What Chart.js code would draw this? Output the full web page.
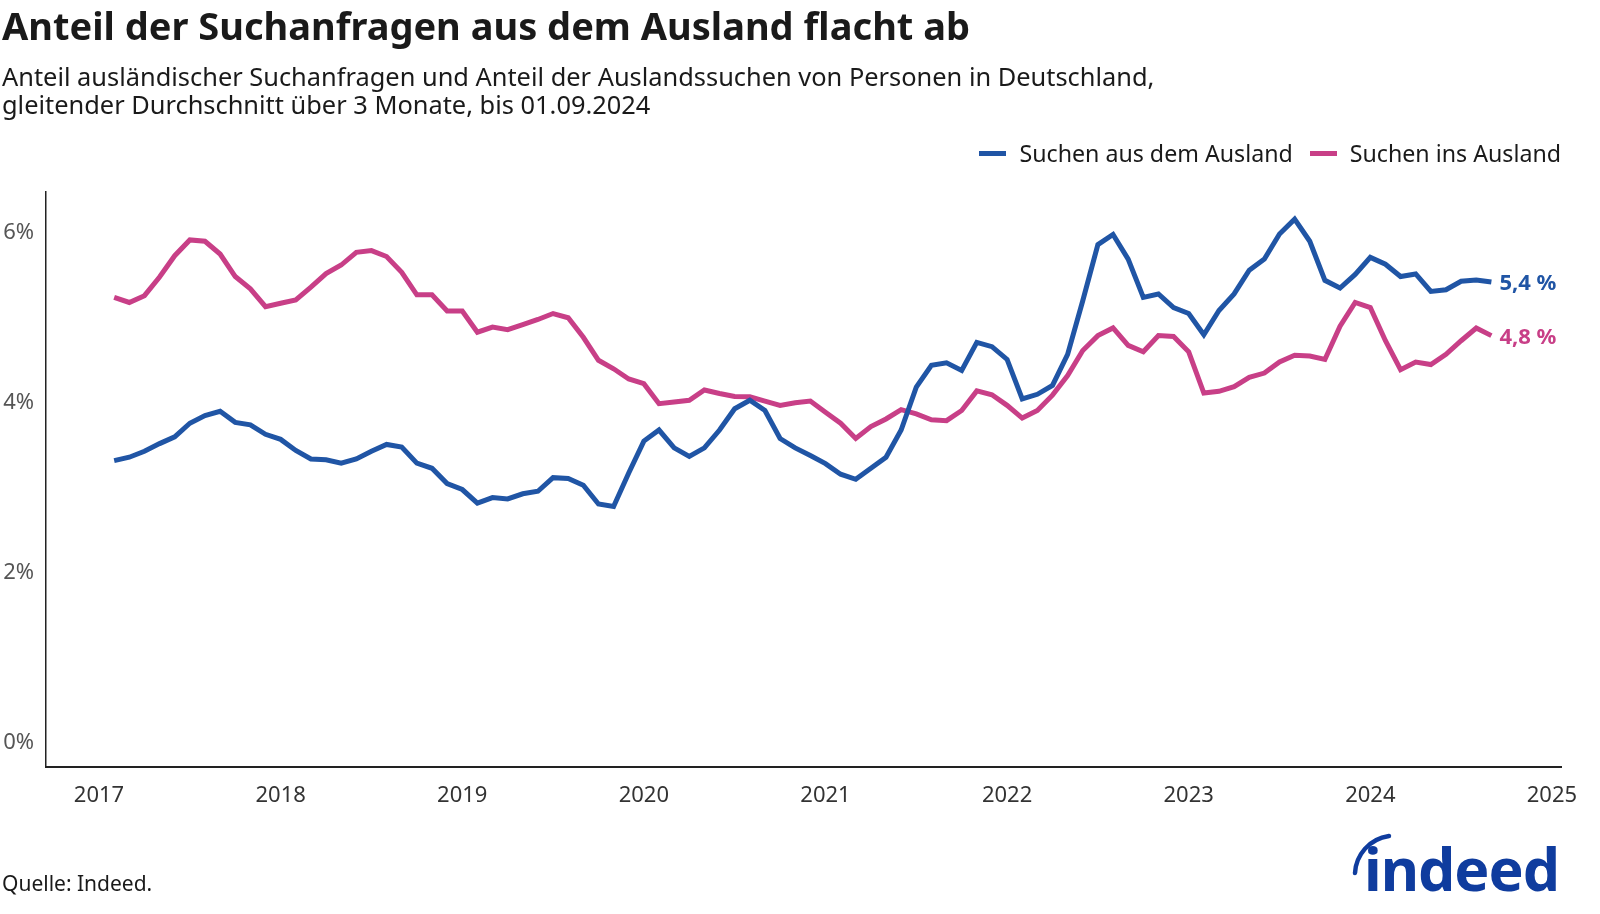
<!DOCTYPE html>
<html><head><meta charset="utf-8">
<script src="https://cdn.jsdelivr.net/npm/chart.js@4.4.1/dist/chart.umd.min.js"></script>
<style>
html,body{margin:0;padding:0;background:#fff}
body{width:1600px;height:914px;position:relative;overflow:hidden;font-family:"Noto Sans",sans-serif;color:#1a1a1a}
#c{position:absolute;left:0;top:0}
.title{position:absolute;left:2px;top:1px;font-size:38px;font-weight:700;white-space:nowrap;line-height:48px}
.sub{position:absolute;left:2px;top:63px;font-size:25.4px;line-height:27.6px;white-space:nowrap}
.legend{position:absolute;right:39px;top:138px;display:flex;align-items:center;font-size:23.2px;line-height:30px;white-space:nowrap}
.legend .sw{width:27px;height:5px;margin-right:13px}
.legend .it{display:flex;align-items:center;margin-left:17px}
.src{position:absolute;left:2px;top:868px;font-size:21px;line-height:30px;white-space:nowrap}
.logo{position:absolute;left:1345px;top:815px}
</style></head>
<body>
<canvas id="c" width="1600" height="914"></canvas>
<div class="title">Anteil der Suchanfragen aus dem Ausland flacht ab</div>
<div class="sub">Anteil ausländischer Suchanfragen und Anteil der Auslandssuchen von Personen in Deutschland,<br>gleitender Durchschnitt über 3 Monate, bis 01.09.2024</div>
<div class="legend" id="legend"></div>
<div class="src">Quelle: Indeed.</div>
<svg class="logo" width="225" height="82" viewBox="0 0 225 82">
  <path d="M10 58 C 11 40, 24 24, 44 21" fill="none" stroke="#0f3c9e" stroke-width="4.5" stroke-linecap="round"/>
  <text x="19" y="76" font-family="Noto Sans" font-weight="700" font-size="59" fill="#0f3c9e" letter-spacing="-1">indeed</text>
</svg>
<script>
const months = [
 "2017-02","2017-03","2017-04","2017-05","2017-06","2017-07","2017-08","2017-09","2017-10","2017-11","2017-12",
 "2018-01","2018-02","2018-03","2018-04","2018-05","2018-06","2018-07","2018-08","2018-09","2018-10","2018-11","2018-12",
 "2019-01","2019-02","2019-03","2019-04","2019-05","2019-06","2019-07","2019-08","2019-09","2019-10","2019-11","2019-12",
 "2020-01","2020-02","2020-03","2020-04","2020-05","2020-06","2020-07","2020-08","2020-09","2020-10","2020-11","2020-12",
 "2021-01","2021-02","2021-03","2021-04","2021-05","2021-06","2021-07","2021-08","2021-09","2021-10","2021-11","2021-12",
 "2022-01","2022-02","2022-03","2022-04","2022-05","2022-06","2022-07","2022-08","2022-09","2022-10","2022-11","2022-12",
 "2023-01","2023-02","2023-03","2023-04","2023-05","2023-06","2023-07","2023-08","2023-09","2023-10","2023-11","2023-12",
 "2024-01","2024-02","2024-03","2024-04","2024-05","2024-06","2024-07","2024-08","2024-09"
];
const ausDemAusland = [
 3.32,3.36,3.43,3.52,3.60,3.76,3.85,3.90,3.77,3.74,3.63,
 3.57,3.44,3.34,3.33,3.29,3.34,3.43,3.51,3.48,3.29,3.23,3.05,
 2.98,2.82,2.885,2.87,2.93,2.96,3.12,3.11,3.03,2.81,2.78,3.175,
 3.55,3.68,3.47,3.37,3.47,3.68,3.93,4.03,3.91,3.58,3.47,3.38,
 3.285,3.16,3.10,3.23,3.36,3.68,4.185,4.44,4.47,4.38,4.71,4.66,
 4.51,4.045,4.10,4.205,4.57,5.20,5.86,5.98,5.69,5.24,5.28,5.12,
 5.05,4.80,5.085,5.28,5.56,5.69,5.985,6.16,5.90,5.44,5.35,5.51,
 5.71,5.63,5.485,5.515,5.31,5.33,5.43,5.445,5.42
];
const insAusland = [
 5.24,5.18,5.26,5.48,5.73,5.915,5.90,5.75,5.485,5.34,5.13,
 5.17,5.21,5.36,5.52,5.62,5.77,5.79,5.72,5.535,5.27,5.27,5.08,
 5.08,4.83,4.89,4.86,4.92,4.98,5.05,5.00,4.77,4.50,4.40,4.28,
 4.225,3.99,4.01,4.03,4.15,4.11,4.075,4.07,4.02,3.97,4.00,4.02,
 3.89,3.76,3.58,3.72,3.81,3.92,3.87,3.80,3.79,3.91,4.14,4.095,
 3.97,3.82,3.91,4.09,4.32,4.615,4.79,4.88,4.675,4.60,4.79,4.78,
 4.60,4.115,4.135,4.19,4.30,4.35,4.48,4.56,4.55,4.51,4.90,5.18,
 5.12,4.73,4.39,4.48,4.45,4.57,4.73,4.88,4.79
];
const seriesNames = ["Suchen aus dem Ausland","Suchen ins Ausland"];
const seriesColors = ["#2055a5","#c83f87"];
const yearTicks = [2017,2018,2019,2020,2021,2022,2023,2024,2025];
const pctTicks = [0,2,4,6];

function toYear(m){const p=m.split("-");return +p[0]+(+p[1]-1)/12;}
function pts(vals){return vals.map((v,i)=>({x:toYear(months[i]),y:v}));}

const lg=document.getElementById('legend');
seriesNames.forEach((n,i)=>{
  const it=document.createElement('div');it.className='it';
  it.innerHTML='<div class="sw" style="background:'+seriesColors[i]+'"></div><span>'+n+'</span>';
  lg.appendChild(it);
});

const endLabels={
  id:'endLabels',
  afterDatasetsDraw(chart){
    const ctx=chart.ctx;
    chart.data.datasets.forEach((ds,i)=>{
      const meta=chart.getDatasetMeta(i);
      const p=meta.data[meta.data.length-1];
      const v=ds.data[ds.data.length-1].y;
      ctx.save();
      ctx.font='700 22px "Noto Sans"';
      ctx.fillStyle=ds.borderColor;
      ctx.textBaseline='middle';
      ctx.textAlign='left';
      ctx.fillText(v.toFixed(1).replace('.',',')+' %',p.x+8,p.y+2);
      ctx.restore();
    });
  }
};

Chart.defaults.font.family='"Noto Sans", sans-serif';
new Chart(document.getElementById('c'),{
  type:'line',
  data:{datasets:[
    {label:seriesNames[0],data:pts(ausDemAusland),borderColor:seriesColors[0],borderWidth:5,pointRadius:0,tension:0,fill:false},
    {label:seriesNames[1],data:pts(insAusland),borderColor:seriesColors[1],borderWidth:5,pointRadius:0,tension:0,fill:false}
  ]},
  options:{
    responsive:false,animation:false,
    layout:{padding:{top:192,right:39,bottom:87,left:0}},
    plugins:{legend:{display:false},tooltip:{enabled:false},title:{display:false}},
    scales:{
      x:{type:'linear',min:2016.708,max:2025.05,
        afterBuildTicks(s){s.ticks=yearTicks.map(v=>({value:v}));},
        afterFit(s){s.height=60;},
        grid:{display:false,drawTicks:false},
        border:{display:true,color:'#222',width:2},
        ticks:{padding:16,color:'#333',font:{size:22},callback:v=>String(v),maxRotation:0,autoSkip:false}
      },
      y:{type:'linear',min:-0.283,max:6.479,
        afterBuildTicks(s){s.ticks=pctTicks.map(v=>({value:v}));},
        afterFit(s){s.width=46;},
        grid:{display:false,drawTicks:false},
        border:{display:true,color:'#222',width:1.5},
        ticks:{padding:12,color:'#555',font:{size:22},callback:v=>v+'%'}
      }
    }
  },
  plugins:[endLabels]
});
</script>
</body></html>
